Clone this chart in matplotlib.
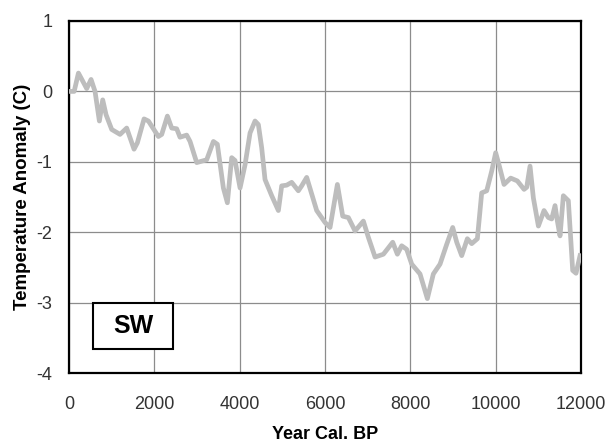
import matplotlib
matplotlib.use("Agg")
import matplotlib.pyplot as plt
from matplotlib.patches import Rectangle

plt.rcParams['font.family'] = ['Liberation Sans', 'DejaVu Sans']
plt.rcParams['axes.unicode_minus'] = False

# Years cal. BP and temperature anomaly (C)
years = [50, 120, 220, 414, 516, 609, 711, 789, 867, 1000, 1195, 1351, 1523, 1601,
         1758, 1860, 2094, 2172, 2305, 2406, 2523, 2601, 2757, 2836, 2992, 3226,
         3383, 3476, 3617, 3711, 3812, 3890, 4008, 4125, 4242, 4359, 4437, 4515,
         4593, 4750, 4906, 4984, 5101, 5218, 5374, 5452, 5570, 5804, 6000, 6117,
         6289, 6414, 6547, 6703, 6898, 7015, 7172, 7367, 7586, 7695, 7796, 7913,
         8031, 8226, 8398, 8538, 8695, 8851, 8992, 9086, 9203, 9335, 9437, 9570,
         9671, 9789, 9906, 9999, 10085, 10195, 10351, 10507, 10664, 10726, 10804,
         10882, 11000, 11132, 11234, 11312, 11390, 11445, 11507, 11585, 11702,
         11804, 11882, 11976]
temps = [0.0, 0.0, 0.26, 0.04, 0.17, 0.0, -0.42, -0.12, -0.33, -0.54, -0.61, -0.52,
         -0.82, -0.73, -0.39, -0.42, -0.64, -0.61, -0.35, -0.52, -0.53, -0.65,
         -0.62, -0.71, -1.01, -0.97, -0.71, -0.75, -1.37, -1.58, -0.94, -0.98,
         -1.37, -1.04, -0.59, -0.42, -0.47, -0.80, -1.25, -1.48, -1.69, -1.34,
         -1.33, -1.29, -1.41, -1.34, -1.22, -1.69, -1.86, -1.93, -1.32, -1.77,
         -1.79, -1.98, -1.84, -2.07, -2.35, -2.31, -2.14, -2.31, -2.19, -2.24,
         -2.45, -2.59, -2.94, -2.59, -2.45, -2.17, -1.93, -2.14, -2.33, -2.09,
         -2.16, -2.09, -1.44, -1.41, -1.13, -0.87, -1.06, -1.32, -1.23, -1.27,
         -1.39, -1.36, -1.06, -1.51, -1.91, -1.69, -1.79, -1.81, -1.62, -1.84,
         -2.05, -1.48, -1.55, -2.54, -2.58, -2.33]

xticks = [0, 2000, 4000, 6000, 8000, 10000, 12000]
yticks = [-4, -3, -2, -1, 0, 1]

fig = plt.figure(figsize=(6.11, 4.45), dpi=100)
ax = fig.add_axes([0.113, 0.161, 0.838, 0.792])

ax.plot(years, temps, color='#bdbdbd', linewidth=3.4, solid_joinstyle='round', zorder=3)

ax.set_xlim(0, 12000)
ax.set_ylim(-4, 1)
ax.set_xticks(xticks)
ax.set_yticks(yticks)
ax.grid(True, color='#8c8c8c', linewidth=0.9)
ax.set_axisbelow(True)
ax.tick_params(axis='both', length=0, labelsize=13, labelcolor='#333333')
ax.tick_params(axis='x', pad=16)
ax.tick_params(axis='y', pad=12)
for s in ax.spines.values():
    s.set_linewidth(1.6)
    s.set_color('black')

ax.set_ylabel('Temperature Anomaly (C)', fontsize=13.5, fontweight='bold', labelpad=4)
ax.set_xlabel('Year Cal. BP', fontsize=13, fontweight='bold', labelpad=10)

# "SW" label box
ax.add_patch(Rectangle((562, -3.66), 1875, 0.66, facecolor='white',
                       edgecolor='black', linewidth=1.5, zorder=4))
ax.text(1500, -3.33, 'SW', ha='center', va='center', fontsize=18,
        fontweight='bold', zorder=5)

fig.savefig('out.png', dpi=100)
